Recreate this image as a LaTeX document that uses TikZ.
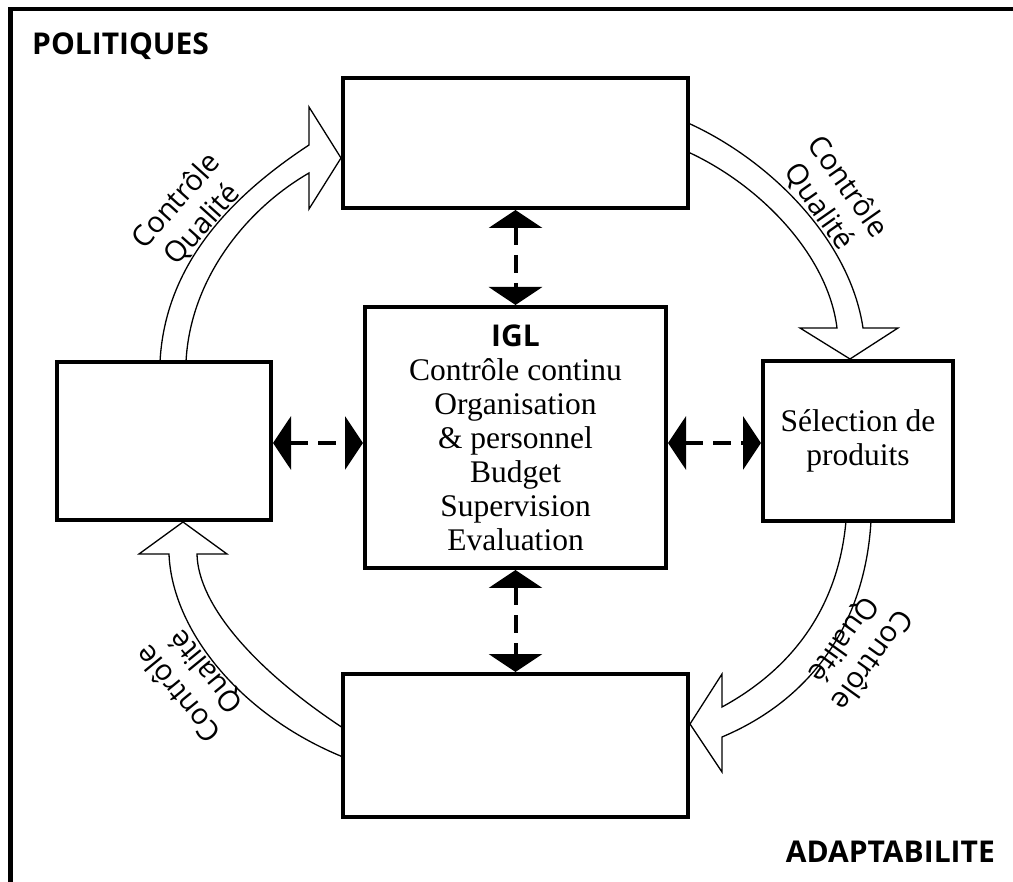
\documentclass[tikz,border=0pt]{standalone}
\usepackage{fontspec}
\setmainfont{Liberation Serif}
\newfontfamily\osans{Open Sans}
\usetikzlibrary{arrows.meta}
\begin{document}
\begin{tikzpicture}[x=1pt,y=-1pt,
  box/.style={draw, line width=4pt, inner sep=0pt, align=center,
    font=\fontsize{31.5}{34}\selectfont},
  lab/.style={font=\osans\fontsize{29}{35}\selectfont, align=center, inner sep=0pt},
  corner/.style={font=\osans\bfseries\fontsize{30}{34}\selectfont, inner sep=0pt},
  hollow/.style={draw, fill=white, line width=1.3pt, line join=miter},
  dbl/.style={line width=4pt, dash pattern=on 18pt off 10pt,
    {Triangle[length=18pt 0 0, width=53pt 0 0]}-{Triangle[length=18pt 0 0, width=53pt 0 0]}}]
\useasboundingbox (0,0) rectangle (1013,882);
% frame
\draw[line width=4.5pt] (1030,9) -- (10.5,9) -- (10.5,900);
\node[corner, anchor=base west] (pol) at (32,55) {POLITIQUES};
\node[corner, anchor=base east] (adapt) at (995,862) {ADAPTABILITE};
% hollow curved arrows
\path[hollow] (160,362) .. controls (165,265) and (230,197) .. (309,145) -- (309,107) -- (341,158) -- (309,209) -- (309,173) .. controls (245,210) and (190,280) .. (186,362);
\path[hollow] (688,123) .. controls (770,160) and (850,240) .. (863,328) -- (898,328) -- (850,359) -- (800,328) -- (837,328) .. controls (828,255) and (760,185) .. (688,152);
\path[hollow] (871,521) .. controls (865,625) and (810,700) .. (722,737) -- (722,772) -- (690,724) -- (722,674) -- (722,707) .. controls (790,670) and (838,610) .. (846,521);
\path[hollow] (343,757) .. controls (240,715) and (172,630) .. (169,554) -- (139,554) -- (183,522) -- (227,554) -- (197,554) .. controls (198,605) and (255,670) .. (343,728);
% boxes
\node[box, minimum width=345pt, minimum height=130pt] (top) at (515.5,143) {};
\node[box, minimum width=214pt, minimum height=158pt] (left) at (164,441) {};
\node[box, minimum width=301pt, minimum height=261pt] (igl) at (515.5,437.5)
  {{\osans\bfseries\fontsize{30}{34}\selectfont IGL}\\Contrôle continu\\Organisation\\\& personnel\\Budget\\Supervision\\Evaluation};
\node[box, minimum width=190pt, minimum height=160pt] (right) at (858,441) {Sélection de\\produits};
\node[box, minimum width=345pt, minimum height=143pt] (bottom) at (515.5,745.5) {};
% labels
\node[lab, rotate=48] (ql1) at (189.5,213) {Contrôle\\Qualité};
\node[lab, rotate=-55] (ql2) at (833,197) {Contrôle\\Qualité};
\node[lab, rotate=234.4] (ql3) at (857,649.5) {Contrôle\\Qualité};
\node[lab, rotate=129.3] (ql4) at (193,682) {Contrôle\\Qualité};
% dashed double arrows
\coordinate (hy) at (0,443);
\draw[dbl] (left.east |- hy) -- (igl.west |- hy);
\draw[dbl] (igl.east |- hy) -- (right.west |- hy);
\draw[dbl] (top.south) -- (igl.north);
\draw[dbl] (igl.south) -- (bottom.north);
\end{tikzpicture}
\end{document}
